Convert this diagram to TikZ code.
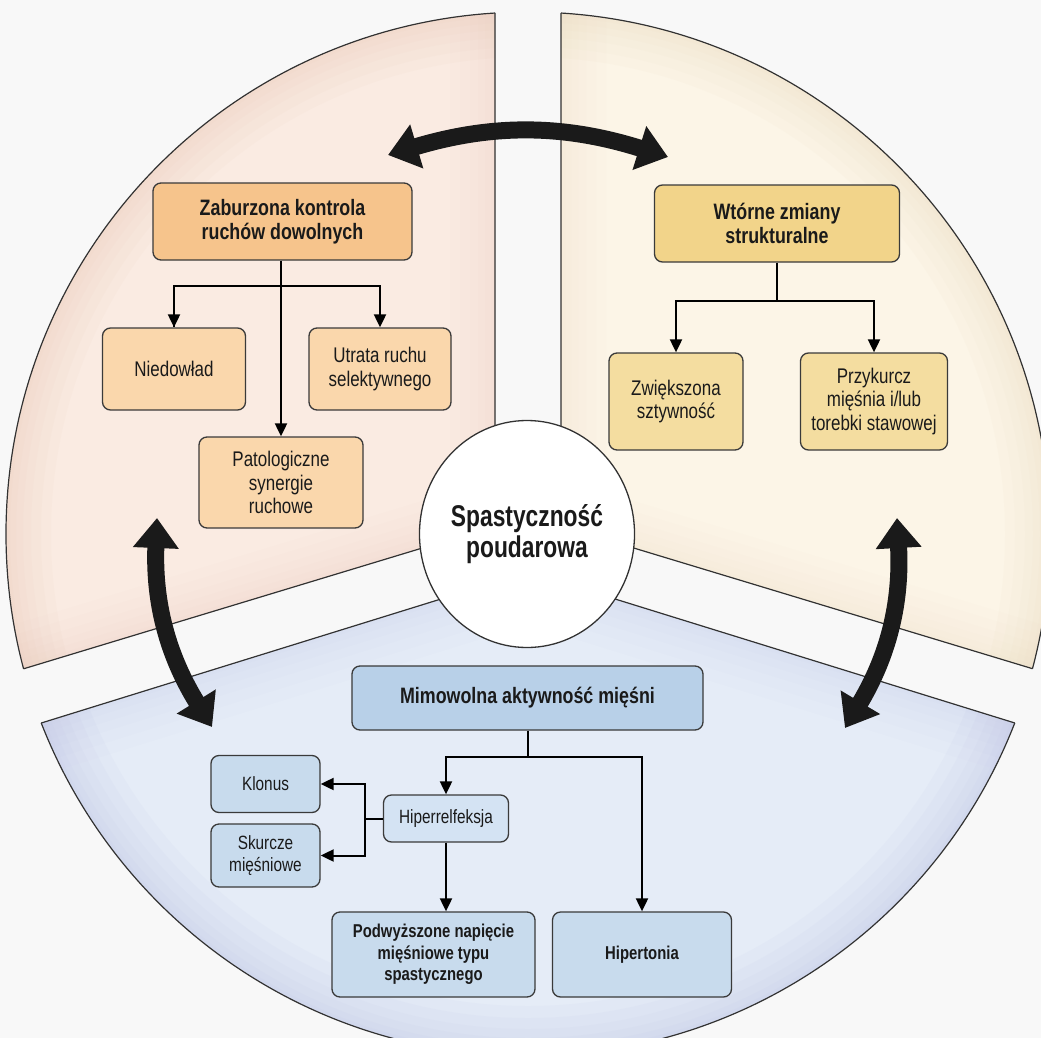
\documentclass[tikz,border=0pt]{standalone}
\usepackage{fontspec}
\setmainfont[FakeStretch=0.8]{Liberation Sans}
\newfontfamily\centerfont[FakeStretch=0.76]{Liberation Sans}
\usetikzlibrary{arrows.meta,shapes.geometric}

\definecolor{bg}{RGB}{248,248,248}
\definecolor{tlfill}{RGB}{250,235,226}
\definecolor{trfill}{RGB}{252,245,231}
\definecolor{btfill}{RGB}{229,236,247}
\definecolor{tlshade}{RGB}{232,196,178}
\definecolor{trshade}{RGB}{232,214,186}
\definecolor{btshade}{RGB}{186,190,228}
\definecolor{orMain}{RGB}{246,196,140}
\definecolor{orSub}{RGB}{250,215,172}
\definecolor{yeMain}{RGB}{242,212,138}
\definecolor{yeSub}{RGB}{244,221,160}
\definecolor{blMain}{RGB}{184,208,232}
\definecolor{blSub}{RGB}{200,219,237}
\definecolor{blLight}{RGB}{212,227,243}
\definecolor{boxline}{RGB}{58,58,58}
\definecolor{txt}{RGB}{26,26,26}
\definecolor{secline}{RGB}{50,50,50}

\tikzset{
  box/.style={draw=boxline, line width=1.3pt, rounded corners=8pt, align=center, inner sep=2pt, text=txt},
  headfont/.style={font={\fontsize{22.3}{24.5}\selectfont\bfseries}},
  subfont/.style={font={\fontsize{21.2}{23.5}\selectfont}},
  tlmain/.style={box, headfont, fill=orMain},
  tlsub/.style={box, subfont, fill=orSub},
  trmain/.style={box, headfont, fill=yeMain},
  trsub/.style={box, subfont, fill=yeSub},
  btmain/.style={box, headfont, fill=blMain},
  btsub/.style={box, font={\fontsize{19.2}{22}\selectfont}, fill=blSub},
  btlow/.style={box, font={\fontsize{18.6}{21.7}\selectfont\bfseries}, fill=blSub},
  conn/.style={draw=black, line width=2pt},
  arr/.style={conn, -{Triangle[width=12pt,length=13pt]}},
  bigarrow/.style={draw=txt, line width=17pt, {Triangle[width=44pt,length=30pt]}-{Triangle[width=44pt,length=30pt]}},
  secedge/.style={draw=secline, line width=1.2pt},
}

\begin{document}
\begin{tikzpicture}[x=1pt,y=-1pt]
\useasboundingbox (0,0) rectangle (1041,1038);
\clip (0,0) rectangle (1041,1038);
\fill[bg] (0,0) rectangle (1041,1038);
\coordinate (C) at (528,534);

% ---- top-left sector
\begin{scope}
  \clip (495,-10) -- (495,526) -- (-20,682) -- (-20,-10) -- cycle;
  \fill[tlfill] (C) circle[radius=522pt];
  \begin{scope}
    \clip (C) circle[radius=522pt];
    \foreach \w in {90,70,50,34,20,8}{
      \draw[tlshade, line width=\w pt, opacity=0.07] (C) circle[radius=522pt];
      \draw[tlshade, line width=\w pt, opacity=0.04] (495,-10) -- (495,526) -- (-20,682);
    }
  \end{scope}
  \draw[secedge] (C) circle[radius=522pt];
\end{scope}
\begin{scope}
  \clip (C) circle[radius=522pt];
  \draw[secedge] (495,-10) -- (495,526) -- (-20,682);
\end{scope}

% ---- top-right sector
\begin{scope}
  \clip (561,-10) -- (561,526) -- (1060,677) -- (1060,-10) -- cycle;
  \fill[trfill] (C) circle[radius=522pt];
  \begin{scope}
    \clip (C) circle[radius=522pt];
    \foreach \w in {90,70,50,34,20,8}{
      \draw[trshade, line width=\w pt, opacity=0.07] (C) circle[radius=522pt];
      \draw[trshade, line width=\w pt, opacity=0.04] (561,-10) -- (561,526) -- (1060,677);
    }
  \end{scope}
  \draw[secedge] (C) circle[radius=522pt];
\end{scope}
\begin{scope}
  \clip (C) circle[radius=522pt];
  \draw[secedge] (561,-10) -- (561,526) -- (1060,677);
\end{scope}

% ---- bottom sector
\begin{scope}
  \clip (-20,742) -- (528,572) -- (1060,737) -- (1060,1100) -- (-20,1100) -- cycle;
  \fill[btfill] (C) circle[radius=522pt];
  \begin{scope}
    \clip (C) circle[radius=522pt];
    \foreach \w in {100,76,54,36,20,8}{
      \draw[btshade, line width=\w pt, opacity=0.08] (C) circle[radius=522pt];
      \draw[btshade, line width=\w pt, opacity=0.04] (-20,742) -- (528,572) -- (1060,737);
    }
  \end{scope}
  \draw[secedge] (C) circle[radius=522pt];
\end{scope}
\begin{scope}
  \clip (C) circle[radius=522pt];
  \draw[secedge] (-20,742) -- (528,572) -- (1060,737);
\end{scope}

% ---- centre
\node[ellipse, draw=secline, line width=1.3pt, fill=white, minimum width=210pt, minimum height=227pt, inner sep=0pt,
      align=center, text=txt, font={\centerfont\fontsize{30}{31}\selectfont\bfseries}] (ctr) at (527,534) {Spastyczność\\poudarowa};

% ---- big double arrows
\coordinate (ta1) at (388,155);
\coordinate (ta2) at (668,157);
\coordinate (la1) at (157,518);
\coordinate (la2) at (212,727);
\coordinate (ra1) at (897,518);
\coordinate (ra2) at (845,728);
\draw[bigarrow] (ta1) to[bend left=17] (ta2);
\draw[bigarrow] (la1) to[bend right=17] (la2);
\draw[bigarrow] (ra1) to[bend left=17] (ra2);

% ---- top-left boxes
\node[tlmain, minimum width=259pt, minimum height=77pt] (zab) at (282.5,221.5) {Zaburzona kontrola\\ruchów dowolnych};
\node[tlsub, minimum width=143pt, minimum height=82pt] (nied) at (174,369) {Niedowład};
\node[tlsub, minimum width=142pt, minimum height=82pt] (utr) at (380,369) {Utrata ruchu\\selektywnego};
\node[tlsub, minimum width=164pt, minimum height=91pt] (pat) at (281,482.5) {Patologiczne\\synergie\\ruchowe};
\coordinate (tlbar) at (281,286);
\draw[arr] (zab.south -| pat.north) -- (pat.north);
\draw[conn] (tlbar) -| (nied.north);
\draw[arr] (tlbar -| nied.north) -- (nied.north);
\draw[arr] (tlbar) -| (utr.north);

% ---- top-right boxes
\node[trmain, minimum width=245pt, minimum height=77pt] (wt) at (777,223.5) {Wtórne zmiany\\strukturalne};
\node[trsub, minimum width=134pt, minimum height=97pt] (zw) at (676,401.5) {Zwiększona\\sztywność};
\node[trsub, minimum width=147pt, minimum height=97pt] (prz) at (874,401.5) {Przykurcz\\mięśnia i/lub\\torebki stawowej};
\coordinate (trbar) at (777,301);
\draw[conn] (wt.south) -- (trbar);
\draw[arr] (trbar) -| (zw.north);
\draw[arr] (trbar) -| (prz.north);

% ---- bottom boxes
\node[btmain, minimum width=351pt, minimum height=64pt] (mim) at (527.5,698) {Mimowolna aktywność mięśni};
\node[btsub, fill=blLight, minimum width=125pt, minimum height=47pt] (hip) at (446,818.5) {Hiperrelfeksja};
\node[btsub, minimum width=109pt, minimum height=57pt] (klo) at (265.5,784) {Klonus};
\node[btsub, minimum width=109pt, minimum height=63pt] (sku) at (265.5,855.5) {Skurcze\\mięśniowe};
\node[btlow, minimum width=203pt, minimum height=85pt] (pod) at (433.5,954.5) {Podwyższone napięcie\\mięśniowe typu\\spastycznego};
\node[btlow, minimum width=179pt, minimum height=85pt] (hipt) at (642,954.5) {Hipertonia};
\coordinate (btbar) at (528,757);
\draw[conn] (mim.south -| btbar) -- (btbar);
\draw[arr] (btbar) -| (hip.north);
\draw[arr] (btbar) -| (hipt.north);
\draw[arr] (hip.south) -- (hip.south |- pod.north);
\coordinate (hbar) at (365,818.5);
\draw[conn] (hip.west) -- (hbar);
\draw[arr] (hbar) |- (klo.east);
\draw[arr] (hbar) |- (sku.east);
\end{tikzpicture}
\end{document}
